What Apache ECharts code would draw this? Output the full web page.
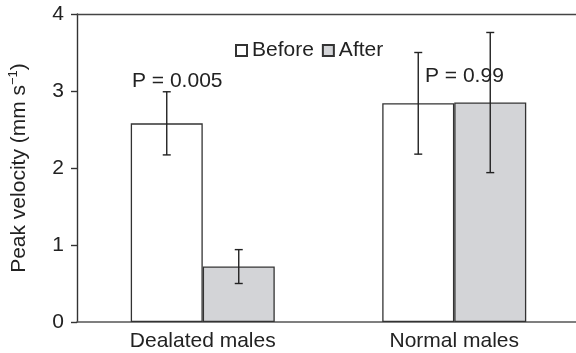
<!DOCTYPE html>
<html>
<head>
<meta charset="utf-8">
<script src="https://cdn.jsdelivr.net/npm/echarts@6/dist/echarts.min.js"></script>
<style>
  html, body { margin: 0; padding: 0; background: #fff; }
  #main { width: 576px; height: 353px; }
</style>
</head>
<body>
<div id="main"></div>
<script>
// 数据
var categories = ['Dealated males', 'Normal males'];
var beforeMean = [2.58, 2.84];
var beforeErr = [0.41, 0.66];
var afterMean = [0.72, 2.85];
var afterErr = [0.22, 0.91];
var yTicks = [0, 1, 2, 3, 4];

var FONT = 'Liberation Sans, Arial, Helvetica, sans-serif';
var BAR_W = 72;

// 误差线
function errorSeries(name, mean, err, offset) {
    var data = mean.map(function (m, i) { return [i, m - err[i], m + err[i]]; });
    return {
        name: name + ' err',
        type: 'custom',
        z: 5,
        silent: true,
        data: data,
        renderItem: function (params, api) {
            var i = api.value(0);
            var lo = api.coord([i, api.value(1)]);
            var hi = api.coord([i, api.value(2)]);
            var x = lo[0] + offset;
            var cap = 4;
            var style = { stroke: '#222', lineWidth: 1.4 };
            return {
                type: 'group',
                children: [
                    { type: 'line', shape: { x1: x, y1: hi[1], x2: x, y2: lo[1] }, style: style },
                    { type: 'line', shape: { x1: x - cap, y1: hi[1], x2: x + cap, y2: hi[1] }, style: style },
                    { type: 'line', shape: { x1: x - cap, y1: lo[1], x2: x + cap, y2: lo[1] }, style: style }
                ]
            };
        }
    };
}

var myChart = echarts.init(document.getElementById('main'));
var option = {
    animation: false,
    textStyle: { fontFamily: FONT },
    grid: {
        left: 77, top: 14, height: 308, width: 503,
        containLabel: false,
        outerBoundsMode: 'none'
    },
    legend: {
        data: ['Before', 'After'],
        left: 230, top: 35,
        icon: 'rect',
        itemWidth: 11, itemHeight: 11,
        itemGap: 8,
        textStyle: { fontSize: 21, color: '#222', fontFamily: FONT }
    },
    xAxis: [{
        type: 'category',
        data: categories,
        axisTick: { show: false },
        axisLine: { lineStyle: { color: '#555', width: 1.6 } },
        axisLabel: { fontSize: 21, color: '#222', margin: 9, fontFamily: FONT }
    }, {
        type: 'category',
        position: 'top',
        data: categories,
        axisTick: { show: false },
        axisLabel: { show: false },
        axisLine: { lineStyle: { color: '#444', width: 1.4 } }
    }],
    yAxis: {
        type: 'value',
        min: yTicks[0], max: yTicks[yTicks.length - 1], interval: 1,
        splitLine: { show: false },
        axisLine: { show: true, lineStyle: { color: '#333', width: 1.4 } },
        axisTick: { show: true, length: 6, lineStyle: { color: '#333', width: 1.4 } },
        axisLabel: { fontSize: 21, color: '#222', margin: 13, fontFamily: FONT },
        name: '{a|Peak velocity (mm s}{s|−1}{a|)}',
        nameLocation: 'middle',
        nameGap: 46,
        nameTextStyle: {
            rich: {
                a: { fontSize: 21, color: '#222', fontFamily: FONT, lineHeight: 24 },
                s: { fontSize: 13, color: '#222', fontFamily: FONT, verticalAlign: 'top', lineHeight: 24, padding: [0, 0, 10, 0] }
            }
        }
    },
    series: [
        {
            name: 'Before', type: 'bar', data: beforeMean,
            barWidth: BAR_W, barGap: '0%',
            itemStyle: { color: '#ffffff', borderColor: '#333', borderWidth: 1.3 }
        },
        {
            name: 'After', type: 'bar', data: afterMean,
            barWidth: BAR_W, barGap: '0%',
            itemStyle: { color: '#d3d4d7', borderColor: '#333', borderWidth: 1.3 }
        },
        errorSeries('Before', beforeMean, beforeErr, -BAR_W / 2),
        errorSeries('After', afterMean, afterErr, BAR_W / 2)
    ],
    graphic: [
        { type: 'text', left: 132, top: 71, z: 10,
          style: { text: 'P = 0.005', font: '21px ' + FONT, fill: '#222' } },
        { type: 'text', left: 425, top: 66, z: 1,
          style: { text: 'P = 0.99', font: '21px ' + FONT, fill: '#222' } }
    ]
};
myChart.setOption(option);
</script>
</body>
</html>
